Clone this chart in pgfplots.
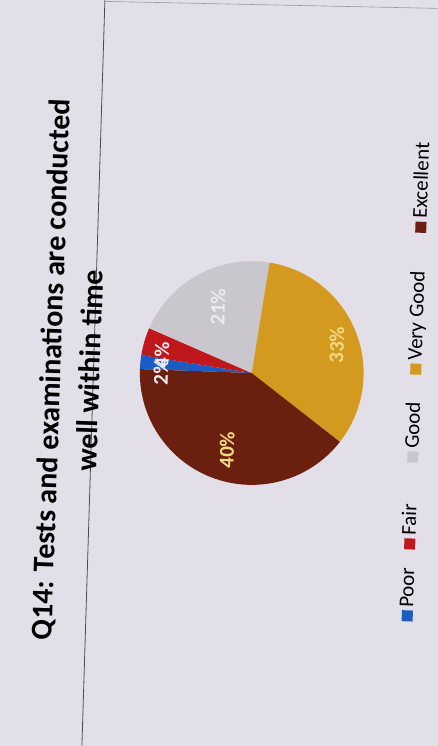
\documentclass[border=0pt]{standalone}
\usepackage{pgfplots}
\pgfplotsset{compat=1.18}
\usepackage{fontspec}
\setmainfont{Carlito}
\definecolor{bg}{HTML}{E3DFE9}
\definecolor{poor}{HTML}{1B5CC4}
\definecolor{fair}{HTML}{C0171B}
\definecolor{good}{HTML}{C9C6CD}
\definecolor{vgood}{HTML}{D4991F}
\definecolor{excel}{HTML}{6B200F}
\definecolor{lblw}{HTML}{EDEAF0}
\definecolor{lbly}{HTML}{F0DA86}
\begin{document}
\begin{tikzpicture}
\begin{axis}[
  scale only axis, width=438pt, height=746pt,
  xmin=0, xmax=438, ymin=0, ymax=746,
  hide axis, clip=false,
]
\fill[bg] (axis cs:0,0) rectangle (axis cs:438,746);
\draw[black!70, line width=0.8pt] (axis cs:105,746) -- (axis cs:82,0);
\draw[black!40, line width=0.6pt] (axis cs:104,745) -- (axis cs:438,738);

% Pie: Poor 2%, Fair 4%, Good 21%, Very Good 33%, Excellent 40%
% start at 178 deg (photo rotated by 88 deg), clockwise; 1% = 3.6 deg
\addplot[fill=poor, draw=none, domain=170.8:178, samples=8, variable=\t]
  ({252+112*cos(\t)},{373+112*sin(\t)}) -- (axis cs:252,373) -- cycle;
\addplot[fill=fair, draw=none, domain=156.4:170.8, samples=12, variable=\t]
  ({252+112*cos(\t)},{373+112*sin(\t)}) -- (axis cs:252,373) -- cycle;
\addplot[fill=good, draw=none, domain=80.8:156.4, samples=40, variable=\t]
  ({252+112*cos(\t)},{373+112*sin(\t)}) -- (axis cs:252,373) -- cycle;
\addplot[fill=vgood, draw=none, domain=-38:80.8, samples=60, variable=\t]
  ({252+112*cos(\t)},{373+112*sin(\t)}) -- (axis cs:252,373) -- cycle;
\addplot[fill=excel, draw=none, domain=-182:-38, samples=72, variable=\t]
  ({252+112*cos(\t)},{373+112*sin(\t)}) -- (axis cs:252,373) -- cycle;

% data labels
\tikzset{lab/.style={rotate=88, font=\fontsize{21}{25}\selectfont\bfseries, inner sep=0pt}}
\node[lab, text=lblw] at (axis cs:218,439) {21\%};
\node[lab, text=lbly] at (axis cs:337,401) {33\%};
\node[lab, text=lbly] at (axis cs:227,296) {40\%};
\node[lab, text=lblw] at (axis cs:161,374) {2\%};
\node[lab, text=lblw] at (axis cs:162,391) {4\%};

% title
\tikzset{ttl/.style={rotate=88, anchor=base, inner sep=0pt, font=\fontsize{30}{36}\selectfont\bfseries}}
\node[ttl] at (axis cs:61,376) {Q14: Tests and examinations are conducted};
\node[ttl] at (axis cs:100,375) {well within time};

% legend
\tikzset{leg/.style={rotate=88, anchor=base west, inner sep=0pt, font=\fontsize{21}{25}\selectfont}}
\newcommand{\lm}[1]{\textcolor{#1}{\rule{11pt}{11pt}}\hspace{3pt}}
\node[leg] at (axis cs:413,124) {\lm{poor}Poor};
\node[leg] at (axis cs:415.5,196) {\lm{fair}Fair};
\node[leg] at (axis cs:418.6,283) {\lm{good}Good};
\node[leg] at (axis cs:421.6,371) {\lm{vgood}Very Good};
\node[leg] at (axis cs:426.6,513) {\lm{excel}Excellent};
\end{axis}
\end{tikzpicture}
\end{document}
